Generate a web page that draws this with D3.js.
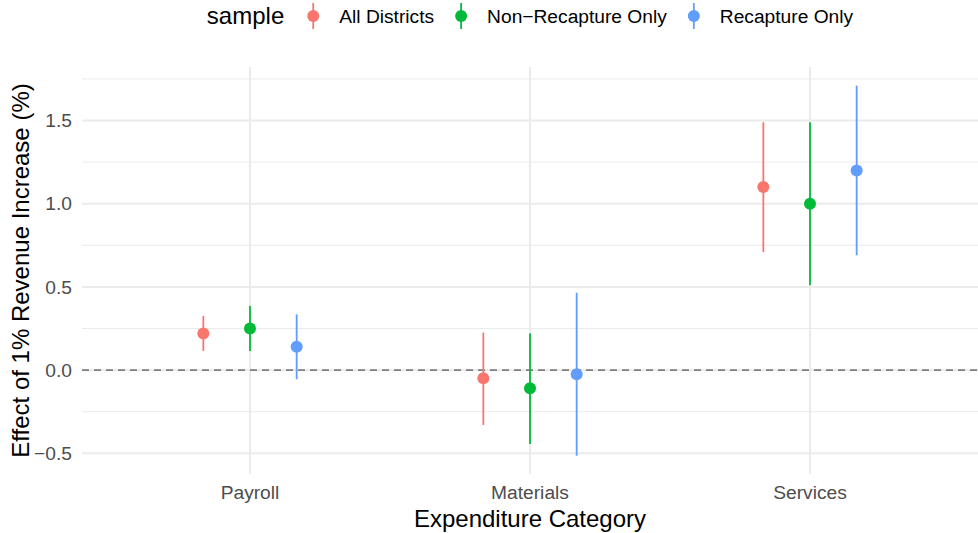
<!DOCTYPE html>
<html>
<head>
<meta charset="utf-8">
<script src="https://cdn.jsdelivr.net/npm/d3@7"></script>
<style>
  body { margin: 0; background: #fff; }
  svg { display: block; font-family: "Liberation Sans", Arial, sans-serif; }
</style>
</head>
<body>
<div id="chart"></div>
<script>
// ---- data ----
var categories = ['Payroll', 'Materials', 'Services'];
var samples = ['All Districts', 'Non\u2212Recapture Only', 'Recapture Only'];
var colors = ['#F8766D', '#00BA38', '#619CFF'];

// estimates per sample, in category order
var estAll   = [0.22, -0.05, 1.10];
var estNon   = [0.25, -0.11, 1.00];
var estRecap = [0.14, -0.025, 1.20];

var lowAll   = [0.115, -0.33, 0.71];
var lowNon   = [0.115, -0.445, 0.51];
var lowRecap = [-0.055, -0.515, 0.69];

var highAll   = [0.325, 0.225, 1.49];
var highNon   = [0.385, 0.22, 1.49];
var highRecap = [0.335, 0.465, 1.71];

var yTicks = [-0.5, 0, 0.5, 1.0, 1.5];
var yMinor = [-0.25, 0.25, 0.75, 1.25, 1.75];

var estimates = [estAll, estNon, estRecap];
var lows = [lowAll, lowNon, lowRecap];
var highs = [highAll, highNon, highRecap];

var rows = [];
samples.forEach(function(s, i) {
  categories.forEach(function(c, j) {
    rows.push({ sample: s, cat: c, est: estimates[i][j], lo: lows[i][j], hi: highs[i][j] });
  });
});

// ---- layout ----
var W = 978, H = 533;
var panel = { left: 82, right: 978, top: 67, bottom: 474 };

var svg = d3.select('#chart').append('svg')
  .attr('width', W).attr('height', H);

var x = d3.scalePoint().domain(categories)
  .range([panel.left, panel.right]).padding(0.6);
var dodgeW = x.step() * 0.5;
var dodge = d3.scalePoint().domain(samples).range([-dodgeW / 3, dodgeW / 3]);
var y = d3.scaleLinear().domain([-0.625, 1.822]).range([panel.bottom, panel.top]);
var color = d3.scaleOrdinal().domain(samples).range(colors);

// grid
var grid = svg.append('g');
yMinor.forEach(function(v) {
  grid.append('line')
    .attr('x1', panel.left).attr('x2', panel.right)
    .attr('y1', y(v)).attr('y2', y(v))
    .attr('stroke', '#EBEBEB').attr('stroke-width', 1);
});
yTicks.forEach(function(v) {
  grid.append('line')
    .attr('x1', panel.left).attr('x2', panel.right)
    .attr('y1', y(v)).attr('y2', y(v))
    .attr('stroke', '#EBEBEB').attr('stroke-width', 2);
});
categories.forEach(function(c) {
  grid.append('line')
    .attr('x1', x(c)).attr('x2', x(c))
    .attr('y1', panel.top).attr('y2', panel.bottom)
    .attr('stroke', '#EBEBEB').attr('stroke-width', 2);
});

// zero reference line
svg.append('line')
  .attr('x1', panel.left).attr('x2', panel.right)
  .attr('y1', y(0)).attr('y2', y(0))
  .attr('stroke', '#7F7F7F').attr('stroke-width', 1.8)
  .attr('stroke-dasharray', '7,5');

// error bars + points
var marks = svg.append('g');
marks.selectAll('line.ci').data(rows).enter().append('line')
  .attr('class', 'ci')
  .attr('x1', function(d) { return x(d.cat) + dodge(d.sample); })
  .attr('x2', function(d) { return x(d.cat) + dodge(d.sample); })
  .attr('y1', function(d) { return y(d.lo); })
  .attr('y2', function(d) { return y(d.hi); })
  .attr('stroke', function(d) { return color(d.sample); })
  .attr('stroke-width', 1.8);
marks.selectAll('circle').data(rows).enter().append('circle')
  .attr('cx', function(d) { return x(d.cat) + dodge(d.sample); })
  .attr('cy', function(d) { return y(d.est); })
  .attr('r', 6)
  .attr('fill', function(d) { return color(d.sample); });

// y tick labels
svg.append('g').selectAll('text').data(yTicks).enter().append('text')
  .attr('x', 72).attr('y', function(d) { return y(d); })
  .attr('dy', '0.35em')
  .attr('text-anchor', 'end')
  .attr('font-size', 19.2).attr('fill', '#4D4D4D')
  .text(function(d) { return d < 0 ? '\u2212' + d3.format('.1f')(-d) : d3.format('.1f')(d); });

// x tick labels
svg.append('g').selectAll('text').data(categories).enter().append('text')
  .attr('x', function(d) { return x(d); }).attr('y', 499)
  .attr('text-anchor', 'middle')
  .attr('font-size', 19.2).attr('fill', '#4D4D4D')
  .text(function(d) { return d; });

// axis titles
svg.append('text')
  .attr('x', (panel.left + panel.right) / 2).attr('y', 527)
  .attr('text-anchor', 'middle').attr('font-size', 24).attr('fill', '#000')
  .text('Expenditure Category');
svg.append('text')
  .attr('transform', 'translate(29,' + ((panel.top + panel.bottom) / 2) + ') rotate(-90)')
  .attr('text-anchor', 'middle').attr('font-size', 24).attr('fill', '#000')
  .text('Effect of 1% Revenue Increase (%)');

// legend
var legend = svg.append('g');
var ly = 16;
var cursor = 0;
var title = legend.append('text')
  .attr('x', cursor).attr('y', ly).attr('dy', '0.35em')
  .attr('font-size', 24).attr('fill', '#000').text('sample');
cursor += title.node().getComputedTextLength() + 29;
samples.forEach(function(s, i) {
  legend.append('line')
    .attr('x1', cursor).attr('x2', cursor)
    .attr('y1', ly - 13).attr('y2', ly + 13)
    .attr('stroke', color(s)).attr('stroke-width', 1.8);
  legend.append('circle')
    .attr('cx', cursor).attr('cy', ly).attr('r', 6)
    .attr('fill', color(s));
  cursor += 26;
  var t = legend.append('text')
    .attr('x', cursor).attr('y', ly).attr('dy', '0.35em')
    .attr('font-size', 19.2).attr('fill', '#000').text(s);
  cursor += t.node().getComputedTextLength();
  if (i < samples.length - 1) cursor += 27;
});
legend.attr('transform', 'translate(' + ((panel.left + panel.right) / 2 - cursor / 2) + ',0)');
</script>
</body>
</html>
